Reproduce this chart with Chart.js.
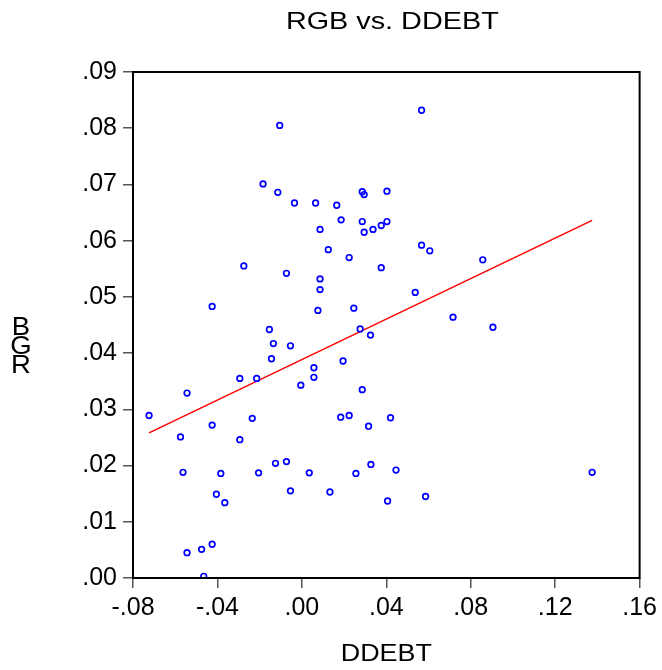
<!DOCTYPE html>
<html>
<head>
<meta charset="utf-8">
<script src="https://cdn.jsdelivr.net/npm/chart.js@4"></script>
<style>
  html, body { margin:0; padding:0; background:#fff; }
  #wrap { width:662px; height:670px; position:relative; }
</style>
</head>
<body>
<div id="wrap"><canvas id="chart"></canvas></div>
<script>
const ddebt = [
  -0.0105, -0.0184, -0.0114, -0.0035, 0.0065, 0.0165, 0.0286, 0.0295, 0.0403, 0.0186,
   0.0286,  0.0403,  0.0086,  0.0295, 0.0337, 0.0376, 0.0125, 0.0224, -0.0275, -0.0073,
   0.0086,  0.0376,  0.0086, -0.0425, 0.0076, 0.0246, 0.0567, 0.0567, 0.0606, 0.0857,
   0.0537,  0.0716,  0.0905,  0.0420, 0.0446, 0.0406, 0.0586, 0.1375, -0.0154, -0.0135,
  -0.0054, -0.0144,  0.0276,  0.0325, 0.0195, 0.0057, 0.0057, -0.0294, -0.0214, -0.0005,
  -0.0544,  0.0286, -0.0724, -0.0425, -0.0235, 0.0184, 0.0224, 0.0316, -0.0575, -0.0294,
  -0.0563, -0.0384, -0.0205, -0.0125, -0.0073, 0.0035, 0.0256, 0.0327, -0.0405, -0.0365,
  -0.0054,  0.0133, -0.0544, -0.0475, -0.0425, -0.0465
];
const rgb = [
  0.0805, 0.0701, 0.0686, 0.0667, 0.0667, 0.0663, 0.0687, 0.0682, 0.0688, 0.0637,
  0.0634, 0.0634, 0.0620, 0.0615, 0.0620, 0.0627, 0.0584, 0.0570, 0.0555, 0.0542,
  0.0532, 0.0552, 0.0513, 0.0483, 0.0476, 0.0480, 0.0832, 0.0592, 0.0582, 0.0566,
  0.0508, 0.0464, 0.0446, 0.0285, 0.0192, 0.0137, 0.0145, 0.0188, 0.0442, 0.0417,
  0.0413, 0.0390, 0.0443, 0.0432, 0.0386, 0.0374, 0.0357, 0.0355, 0.0355, 0.0343,
  0.0329, 0.0335, 0.0289, 0.0272, 0.0284, 0.0286, 0.0289, 0.0270, 0.0251, 0.0246,
  0.0188, 0.0186, 0.0187, 0.0204, 0.0207, 0.0187, 0.0186, 0.0202, 0.0149, 0.0134,
  0.0155, 0.0153, 0.0045, 0.0051, 0.0060, 0.0003
];
// regression line ends
const fitX = [-0.0724, 0.1375];
const fitY = [0.0258, 0.0636];

const xMin = -0.08, xMax = 0.16, xStep = 0.04;
const yMin = 0, yMax = 0.09, yStep = 0.01;

const chartTitle = "RGB vs. DDEBT";
const xTitle = "DDEBT";
const yTitle = ["B", "G", "R"];   // stacked top to bottom

const FONT = "'Liberation Sans', Arial, sans-serif";
const fmt = v => {
  const s = Number(v).toFixed(2);
  return s.replace(/^(-?)0\./, "$1.");
};

// the text in the original is a bit wider than Liberation Sans
function wideText(ctx, txt, x, y, sx) {
  ctx.save();
  ctx.translate(x, y);
  ctx.scale(sx, 1);
  ctx.fillText(txt, 0, 0);
  ctx.restore();
}

// black box round the plot, titles
const framePlugin = {
  id: "frame",
  afterDraw(chart) {
    const { ctx, chartArea: a } = chart;
    ctx.save();
    ctx.strokeStyle = "#000";
    ctx.lineWidth = 2;
    ctx.strokeRect(a.left, a.top, a.right - a.left, a.bottom - a.top);

    ctx.fillStyle = "#000";
    ctx.font = "24px " + FONT;
    ctx.textAlign = "center";
    ctx.textBaseline = "middle";
    const cx = (a.left + a.right) / 2 + 6;
    wideText(ctx, chartTitle, cx, 22, 1.2);
    wideText(ctx, xTitle, (a.left + a.right) / 2, 654, 1.12);
    ctx.font = "25px " + FONT;
    yTitle.forEach((ch, i) => wideText(ctx, ch, 21, 328 + i * 19, 1.1));
    ctx.restore();
  }
};

const ctx = document.getElementById("chart").getContext("2d");
new Chart(ctx, {
  type: "scatter",
  data: {
    datasets: [
      {
        label: "RGB",
        data: ddebt.map((x, i) => ({ x, y: rgb[i] })),
        borderColor: "#0000ff",
        backgroundColor: "rgba(0,0,0,0)",
        borderWidth: 1.7,
        pointRadius: 2.8,
        pointHoverRadius: 2.8,
      },
      {
        label: "fit",
        type: "line",
        data: fitX.map((x, i) => ({ x, y: fitY[i] })),
        borderColor: "#ff0000",
        borderWidth: 1.5,
        pointRadius: 0,
        fill: false,
      }
    ]
  },
  options: {
    responsive: true,
    maintainAspectRatio: false,
    animation: false,
    layout: { padding: { left: 0, right: 21, top: 72, bottom: 0 } },
    plugins: {
      legend: { display: false },
      tooltip: { enabled: false },
      title: { display: false },
    },
    scales: {
      x: {
        type: "linear",
        min: xMin, max: xMax,
        afterBuildTicks: s => {
          s.ticks = [];
          for (let v = xMin; v <= xMax + 1e-9; v += xStep) s.ticks.push({ value: +v.toFixed(4) });
        },
        afterFit: s => { s.height = 92; },
        grid: { drawOnChartArea: false, drawTicks: true, tickLength: 10, color: "#555", lineWidth: 1.5 },
        border: { display: false },
        ticks: {
          color: "#000", padding: 5, maxRotation: 0, autoSkip: false,
          font: { family: FONT, size: 25 },
          callback: v => fmt(v),
        },
      },
      y: {
        type: "linear",
        min: yMin, max: yMax,
        afterBuildTicks: s => {
          s.ticks = [];
          for (let v = yMin; v <= yMax + 1e-9; v += yStep) s.ticks.push({ value: +v.toFixed(4) });
        },
        afterFit: s => { s.width = 133; },
        grid: { drawOnChartArea: false, drawTicks: true, tickLength: 10, color: "#555", lineWidth: 1.5 },
        border: { display: false },
        ticks: {
          color: "#000", padding: 6, autoSkip: false,
          font: { family: FONT, size: 25 },
          callback: v => fmt(v),
        },
      },
    },
  },
  plugins: [framePlugin],
});
</script>
</body>
</html>
